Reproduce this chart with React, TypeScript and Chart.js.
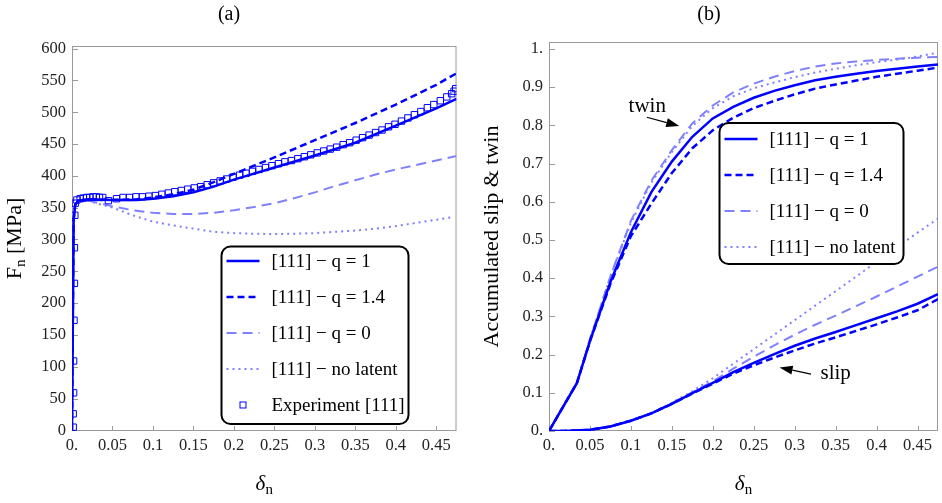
import React, { useEffect, useRef } from "react";
import { Chart, registerables } from "chart.js";
Chart.register(...registerables);

const SERIF = '"Liberation Serif", "DejaVu Serif", serif';
const BLUE = "rgb(0,0,255)";
const LIGHT = "rgb(128,128,255)";
const FRAME = "#9a9a9a";

// ---------------- shared ticks ----------------
const xTickValues = [0, 0.05, 0.1, 0.15, 0.2, 0.25, 0.3, 0.35, 0.4, 0.45];
const xTickLabels = ["0.", "0.05", "0.1", "0.15", "0.2", "0.25", "0.3", "0.35", "0.4", "0.45"];
const aYTickValues = [0, 50, 100, 150, 200, 250, 300, 350, 400, 450, 500, 550, 600];
const aYTickLabels = ["0", "50", "100", "150", "200", "250", "300", "350", "400", "450", "500", "550", "600"];
const bYTickValues = [0, 0.1, 0.2, 0.3, 0.4, 0.5, 0.6, 0.7, 0.8, 0.9, 1];
const bYTickLabels = ["0.", "0.1", "0.2", "0.3", "0.4", "0.5", "0.6", "0.7", "0.8", "0.9", "1."];

const seriesLabels = ["[111] − q = 1", "[111] − q = 1.4", "[111] − q = 0", "[111] − no latent"];
const expLabel = "Experiment [111]";

// ---------------- panel (a) ----------------
const aQ1X = [0, 0.002, 0.004, 0.008, 0.02, 0.05, 0.08, 0.1, 0.125, 0.15, 0.175, 0.2, 0.25, 0.3, 0.35, 0.4, 0.45, 0.475];
const aQ1Y = [0, 330, 355, 361, 363, 362, 362, 364, 368, 374, 383, 394, 413, 432, 452, 479, 506, 521];
const aQ14X = [0, 0.002, 0.004, 0.008, 0.02, 0.05, 0.08, 0.1, 0.125, 0.15, 0.175, 0.2, 0.25, 0.3, 0.35, 0.4, 0.45, 0.475];
const aQ14Y = [0, 330, 355, 361, 363, 362, 363, 366, 371, 378, 390, 403, 429, 456, 483, 512, 543, 561];
const aQ0X = [0, 0.002, 0.004, 0.008, 0.02, 0.03, 0.05, 0.075, 0.1, 0.125, 0.15, 0.175, 0.2, 0.225, 0.25, 0.275, 0.3, 0.325, 0.35, 0.375, 0.4, 0.425, 0.45, 0.475];
const aQ0Y = [0, 330, 355, 361, 361, 358, 352, 346, 342, 340, 340, 342, 346, 351, 357, 365, 374, 384, 393, 402, 410, 417, 424, 431];
const aNLX = [0, 0.002, 0.004, 0.008, 0.02, 0.03, 0.05, 0.075, 0.1, 0.125, 0.15, 0.175, 0.2, 0.225, 0.25, 0.275, 0.3, 0.325, 0.35, 0.375, 0.4, 0.425, 0.45, 0.47];
const aNLY = [0, 330, 355, 361, 361, 357, 350, 338, 328, 322, 317, 312, 310, 309, 308.5, 309, 310, 312, 314, 317, 321, 326, 331, 335];

const expX = [0.0015, 0.0015, 0.002, 0.002, 0.0025, 0.003, 0.003, 0.0035, 0.004,
  0.006, 0.01, 0.014, 0.018, 0.022, 0.026, 0.03, 0.034, 0.038, 0.045, 0.055, 0.063, 0.071, 0.079, 0.087, 0.095,
  0.103, 0.111, 0.119, 0.127, 0.135, 0.143, 0.151, 0.159, 0.167, 0.175, 0.183, 0.191, 0.199, 0.207, 0.215, 0.223,
  0.231, 0.239, 0.247, 0.255, 0.263, 0.271, 0.279, 0.287, 0.295, 0.303, 0.311, 0.319, 0.327, 0.335, 0.343, 0.351,
  0.359, 0.367, 0.375, 0.383, 0.391, 0.399, 0.407, 0.415, 0.423, 0.431, 0.439, 0.447, 0.455, 0.463, 0.469, 0.472, 0.474];
const expY = [5, 26, 59, 109, 173, 231, 287, 338, 357,
  362, 364, 365, 366, 366, 367, 367, 366, 366, 361, 364, 366, 366, 367, 367, 368,
  369, 371, 373, 375, 377, 379, 381, 383, 386, 389, 392, 395, 398, 401, 404, 407,
  410, 413, 416, 419, 422, 424, 427, 430, 433, 436, 439, 442, 445, 449, 452, 456,
  460, 464, 468, 472, 477, 481, 486, 491, 496, 501, 507, 512, 518, 524, 529, 533, 537];

// ---------------- panel (b) ----------------
const twinX = [0, 0.034, 0.05, 0.075, 0.1, 0.125, 0.15, 0.175, 0.2, 0.225, 0.25, 0.275, 0.3, 0.325, 0.35, 0.375, 0.4, 0.425, 0.45, 0.475];
const twinQ1 = [0, 0.125, 0.235, 0.39, 0.52, 0.625, 0.705, 0.77, 0.818, 0.848, 0.872, 0.89, 0.905, 0.918, 0.927, 0.935, 0.942, 0.948, 0.954, 0.959];
const twinQ14 = [0, 0.125, 0.235, 0.385, 0.51, 0.595, 0.675, 0.74, 0.787, 0.82, 0.845, 0.864, 0.881, 0.896, 0.907, 0.917, 0.927, 0.935, 0.943, 0.951];
const twinQ0 = [0, 0.125, 0.24, 0.405, 0.55, 0.655, 0.735, 0.805, 0.852, 0.886, 0.909, 0.927, 0.942, 0.954, 0.962, 0.967, 0.971, 0.974, 0.977, 0.979];
const twinNL = [0, 0.125, 0.24, 0.405, 0.545, 0.65, 0.73, 0.798, 0.845, 0.876, 0.897, 0.912, 0.926, 0.938, 0.948, 0.957, 0.965, 0.972, 0.98, 0.99];

const slipX = [0, 0.025, 0.05, 0.075, 0.1, 0.125, 0.15, 0.175, 0.2, 0.225, 0.25, 0.275, 0.3, 0.325, 0.35, 0.375, 0.4, 0.425, 0.45, 0.475];
const slipQ1 = [0, 0.0005, 0.003, 0.012, 0.027, 0.046, 0.071, 0.099, 0.126, 0.154, 0.178, 0.201, 0.223, 0.242, 0.259, 0.277, 0.295, 0.313, 0.333, 0.358];
const slipQ14 = [0, 0.0005, 0.003, 0.012, 0.027, 0.046, 0.071, 0.098, 0.124, 0.15, 0.172, 0.192, 0.211, 0.229, 0.245, 0.262, 0.279, 0.297, 0.316, 0.345];
const slipQ0 = [0, 0.0005, 0.003, 0.012, 0.027, 0.047, 0.073, 0.101, 0.13, 0.163, 0.194, 0.224, 0.252, 0.278, 0.302, 0.327, 0.352, 0.378, 0.404, 0.43];
const slipNL = [0, 0.0005, 0.003, 0.012, 0.027, 0.047, 0.074, 0.104, 0.138, 0.176, 0.214, 0.252, 0.29, 0.328, 0.366, 0.404, 0.443, 0.481, 0.519, 0.556];

// annotations in data coordinates of panel (b)
const annTexts = ["twin", "slip"];
const annTextX = [0.12, 0.35];
const annTextY = [0.835, 0.136];
const annTailX = [0.1195, 0.32];
const annTailY = [0.821, 0.149];
const annTipX = [0.159, 0.2816];
const annTipY = [0.798, 0.1664];

// ---------------- styles ----------------
const styles = [
  { color: BLUE, width: 2.5, dash: [] as number[] },
  { color: BLUE, width: 2.5, dash: [7, 4] },
  { color: LIGHT, width: 2, dash: [10, 6] },
  { color: LIGHT, width: 2, dash: [2, 4] },
];

const pts = (xs: number[], ys: number[]) => xs.map((x, i) => ({ x, y: ys[i] }));

function lineDs(label: string, xs: number[], ys: number[], s: number) {
  return {
    label,
    data: pts(xs, ys),
    borderColor: styles[s].color,
    borderWidth: styles[s].width,
    borderDash: styles[s].dash,
    pointRadius: 0,
    tension: 0,
    fill: false,
    order: 1 + s,
  };
}

const lookup = (vals: number[], labels: string[]) => (v: any) => {
  const i = vals.findIndex((t) => Math.abs(t - Number(v)) < 1e-9);
  return i >= 0 ? labels[i] : "";
};

function drawSubText(ctx: CanvasRenderingContext2D, main: string, sub: string, rest: string,
  mainFont: string, subFont: string, restFont: string, x: number, y: number, rot: number) {
  ctx.save();
  ctx.translate(x, y);
  ctx.rotate(rot);
  ctx.textBaseline = "alphabetic";
  ctx.textAlign = "left";
  ctx.fillStyle = "#000";
  ctx.font = mainFont; const w1 = ctx.measureText(main).width;
  ctx.font = subFont; const w2 = ctx.measureText(sub).width;
  ctx.font = restFont; const w3 = ctx.measureText(rest).width;
  let cx = -(w1 + w2 + w3) / 2;
  ctx.font = mainFont; ctx.fillText(main, cx, 0); cx += w1;
  ctx.font = subFont; ctx.fillText(sub, cx, 4); cx += w2;
  ctx.font = restFont; ctx.fillText(rest, cx, 0);
  ctx.restore();
}

const framePlugin = {
  id: "frameTicks",
  beforeDatasetsDraw(chart: any) {
    const { ctx, chartArea: a } = chart;
    ctx.save();
    ctx.strokeStyle = FRAME;
    ctx.lineWidth = 1;
    ctx.strokeRect(a.left + 0.5, a.top + 0.5, a.right - a.left - 1, a.bottom - a.top - 1);
    const xs = chart.scales.x, ys = chart.scales.y;
    ctx.beginPath();
    xs.ticks.forEach((t: any) => {
      const px = Math.round(xs.getPixelForValue(t.value)) + 0.5;
      ctx.moveTo(px, a.bottom);
      ctx.lineTo(px, a.bottom - 5);
    });
    ys.ticks.forEach((t: any) => {
      const py = Math.round(ys.getPixelForValue(t.value)) + 0.5;
      ctx.moveTo(a.left, py);
      ctx.lineTo(a.left + 6, py);
    });
    ctx.stroke();
    ctx.restore();
  },
};

function axisTitlePlugin(yMain: string, ySub: string, yRest: string, yBaseX: number) {
  return {
    id: "axisTitles",
    afterDraw(chart: any) {
      const { ctx, chartArea: a } = chart;
      drawSubText(ctx, "δ", "n", "", `italic 21px ${SERIF}`, `15px ${SERIF}`, `21px ${SERIF}`,
        (a.left + a.right) / 2, chart.height - 13, 0);
      drawSubText(ctx, yMain, ySub, yRest, `22px ${SERIF}`, `15px ${SERIF}`, `22px ${SERIF}`,
        yBaseX, (a.top + a.bottom) / 2, -Math.PI / 2);
    },
  };
}

type LegendItem = { label: string; s: number; marker?: boolean };
function boxLegendPlugin(dx: number, dy: number, w: number, h: number, rows: number[], items: LegendItem[]) {
  return {
    id: "boxLegend",
    afterDraw(chart: any) {
      const { ctx, chartArea: a } = chart;
      const L = a.left + dx, T = a.top + dy;
      ctx.save();
      ctx.beginPath();
      ctx.roundRect(L, T, w, h, 9);
      ctx.fillStyle = "#fff";
      ctx.fill();
      ctx.lineWidth = 2;
      ctx.strokeStyle = "#000";
      ctx.stroke();
      items.forEach((it, i) => {
        const y = T + rows[i];
        if (it.marker) {
          ctx.setLineDash([]);
          ctx.strokeStyle = BLUE;
          ctx.lineWidth = 1;
          ctx.strokeRect(L + 18.5, y - 3, 6, 6);
        } else {
          const st = styles[it.s];
          ctx.setLineDash(st.dash);
          ctx.strokeStyle = st.color;
          ctx.lineWidth = st.width;
          ctx.beginPath();
          ctx.moveTo(L + 5, y);
          ctx.lineTo(L + 38, y);
          ctx.stroke();
        }
        ctx.setLineDash([]);
        ctx.fillStyle = "#000";
        ctx.font = `19px ${SERIF}`;
        ctx.textBaseline = "middle";
        ctx.textAlign = "left";
        ctx.fillText(it.label, L + 50, y + 1);
      });
      ctx.restore();
    },
  };
}

const annotationPlugin = {
  id: "annotations",
  afterDatasetsDraw(chart: any) {
    const { ctx } = chart;
    const xs = chart.scales.x, ys = chart.scales.y;
    ctx.save();
    annTexts.forEach((t, i) => {
      ctx.fillStyle = "#000";
      ctx.font = `21px ${SERIF}`;
      ctx.textAlign = "center";
      ctx.textBaseline = "alphabetic";
      ctx.fillText(t, xs.getPixelForValue(annTextX[i]), ys.getPixelForValue(annTextY[i]));
      const x0 = xs.getPixelForValue(annTailX[i]), y0 = ys.getPixelForValue(annTailY[i]);
      const x1 = xs.getPixelForValue(annTipX[i]), y1 = ys.getPixelForValue(annTipY[i]);
      const ang = Math.atan2(y1 - y0, x1 - x0);
      const hl = 13, hw = 4.5;
      const bx = x1 - hl * Math.cos(ang), by = y1 - hl * Math.sin(ang);
      ctx.strokeStyle = "#000";
      ctx.lineWidth = 1.2;
      ctx.beginPath();
      ctx.moveTo(x0, y0);
      ctx.lineTo(bx, by);
      ctx.stroke();
      ctx.beginPath();
      ctx.moveTo(x1, y1);
      ctx.lineTo(bx + hw * Math.sin(ang), by - hw * Math.cos(ang));
      ctx.lineTo(bx - hw * Math.sin(ang), by + hw * Math.cos(ang));
      ctx.closePath();
      ctx.fill();
    });
    ctx.restore();
  },
};

function scales(yMin: number, yMax: number, yVals: number[], yLabels: string[], yWidth: number) {
  const tickFont = { family: SERIF, size: 16.5 };
  return {
    x: {
      type: "linear" as const,
      min: 0,
      max: 0.475,
      grid: { display: false, drawTicks: false },
      border: { display: false },
      afterBuildTicks: (s: any) => { s.ticks = xTickValues.map((v) => ({ value: v })); },
      afterFit: (s: any) => { s.height = 72; },
      ticks: { padding: 5, font: tickFont, color: "#222", maxRotation: 0, autoSkip: false, callback: lookup(xTickValues, xTickLabels) },
    },
    y: {
      type: "linear" as const,
      min: yMin,
      max: yMax,
      grid: { display: false, drawTicks: false },
      border: { display: false },
      afterBuildTicks: (s: any) => { s.ticks = yVals.map((v) => ({ value: v })); },
      afterFit: (s: any) => { s.width = yWidth; },
      ticks: { padding: 6, font: tickFont, color: "#222", autoSkip: false, callback: lookup(yVals, yLabels) },
    },
  };
}

function configA(): any {
  return {
    type: "line",
    data: {
      datasets: [
        {
          label: expLabel,
          data: pts(expX, expY),
          showLine: false,
          pointStyle: "rect",
          pointRadius: 4.5,
          pointBorderWidth: 1,
          pointBorderColor: BLUE,
          pointBackgroundColor: "rgba(0,0,0,0)",
          order: 0,
        },
        lineDs(seriesLabels[0], aQ1X, aQ1Y, 0),
        lineDs(seriesLabels[1], aQ14X, aQ14Y, 1),
        lineDs(seriesLabels[2], aQ0X, aQ0Y, 2),
        lineDs(seriesLabels[3], aNLX, aNLY, 3),
      ],
    },
    options: {
      responsive: false,
      animation: false,
      layout: { padding: { left: 0, right: 4, top: 0, bottom: 0 } },
      plugins: {
        legend: { display: false },
        tooltip: { enabled: false },
        title: { display: true, text: "(a)", color: "#000", font: { family: SERIF, size: 20, weight: "normal" }, padding: { top: 3, bottom: 19 } },
      },
      scales: scales(-1, 604, aYTickValues, aYTickLabels, 72),
    },
    plugins: [
      framePlugin,
      axisTitlePlugin("F", "n", " [MPa]", 21),
      boxLegendPlugin(149.5, 200.5, 187, 177.5, [14.5, 50.5, 86.5, 122.5, 158.5], [
        { label: seriesLabels[0], s: 0 },
        { label: seriesLabels[1], s: 1 },
        { label: seriesLabels[2], s: 2 },
        { label: seriesLabels[3], s: 3 },
        { label: expLabel, s: 0, marker: true },
      ]),
    ],
  };
}

function configB(): any {
  return {
    type: "line",
    data: {
      datasets: [
        lineDs(seriesLabels[0], twinX, twinQ1, 0),
        lineDs(seriesLabels[1], twinX, twinQ14, 1),
        lineDs(seriesLabels[2], twinX, twinQ0, 2),
        lineDs(seriesLabels[3], twinX, twinNL, 3),
        lineDs(seriesLabels[0], slipX, slipQ1, 0),
        lineDs(seriesLabels[1], slipX, slipQ14, 1),
        lineDs(seriesLabels[2], slipX, slipQ0, 2),
        lineDs(seriesLabels[3], slipX, slipNL, 3),
      ],
    },
    options: {
      responsive: false,
      animation: false,
      layout: { padding: { left: 0, right: 4, top: 0, bottom: 0 } },
      plugins: {
        legend: { display: false },
        tooltip: { enabled: false },
        title: { display: true, text: "(b)", color: "#000", font: { family: SERIF, size: 20, weight: "normal" }, padding: { top: 3, bottom: 15 } },
      },
      scales: scales(0, 1.018, bYTickValues, bYTickLabels, 69),
    },
    plugins: [
      framePlugin,
      annotationPlugin,
      axisTitlePlugin("Accumulated slip & twin", "", "", 18),
      boxLegendPlugin(170.5, 81, 184, 141, [16, 52, 88, 124], [
        { label: seriesLabels[0], s: 0 },
        { label: seriesLabels[1], s: 1 },
        { label: seriesLabels[2], s: 2 },
        { label: seriesLabels[3], s: 3 },
      ]),
    ],
  };
}

export default function App() {
  const refA = useRef<HTMLCanvasElement>(null);
  const refB = useRef<HTMLCanvasElement>(null);
  useEffect(() => {
    const ca = new Chart(refA.current!, configA());
    const cb = new Chart(refB.current!, configB());
    return () => {
      ca.destroy();
      cb.destroy();
    };
  }, []);
  return (
    <div style={{ position: "absolute", left: 0, top: 0, width: 942, height: 503, background: "#fff", overflow: "hidden" }}>
      <canvas ref={refA} width={462} height={503} style={{ position: "absolute", left: 0, top: 0, width: 462, height: 503 }} />
      <canvas ref={refB} width={462} height={503} style={{ position: "absolute", left: 480, top: 0, width: 462, height: 503 }} />
    </div>
  );
}
